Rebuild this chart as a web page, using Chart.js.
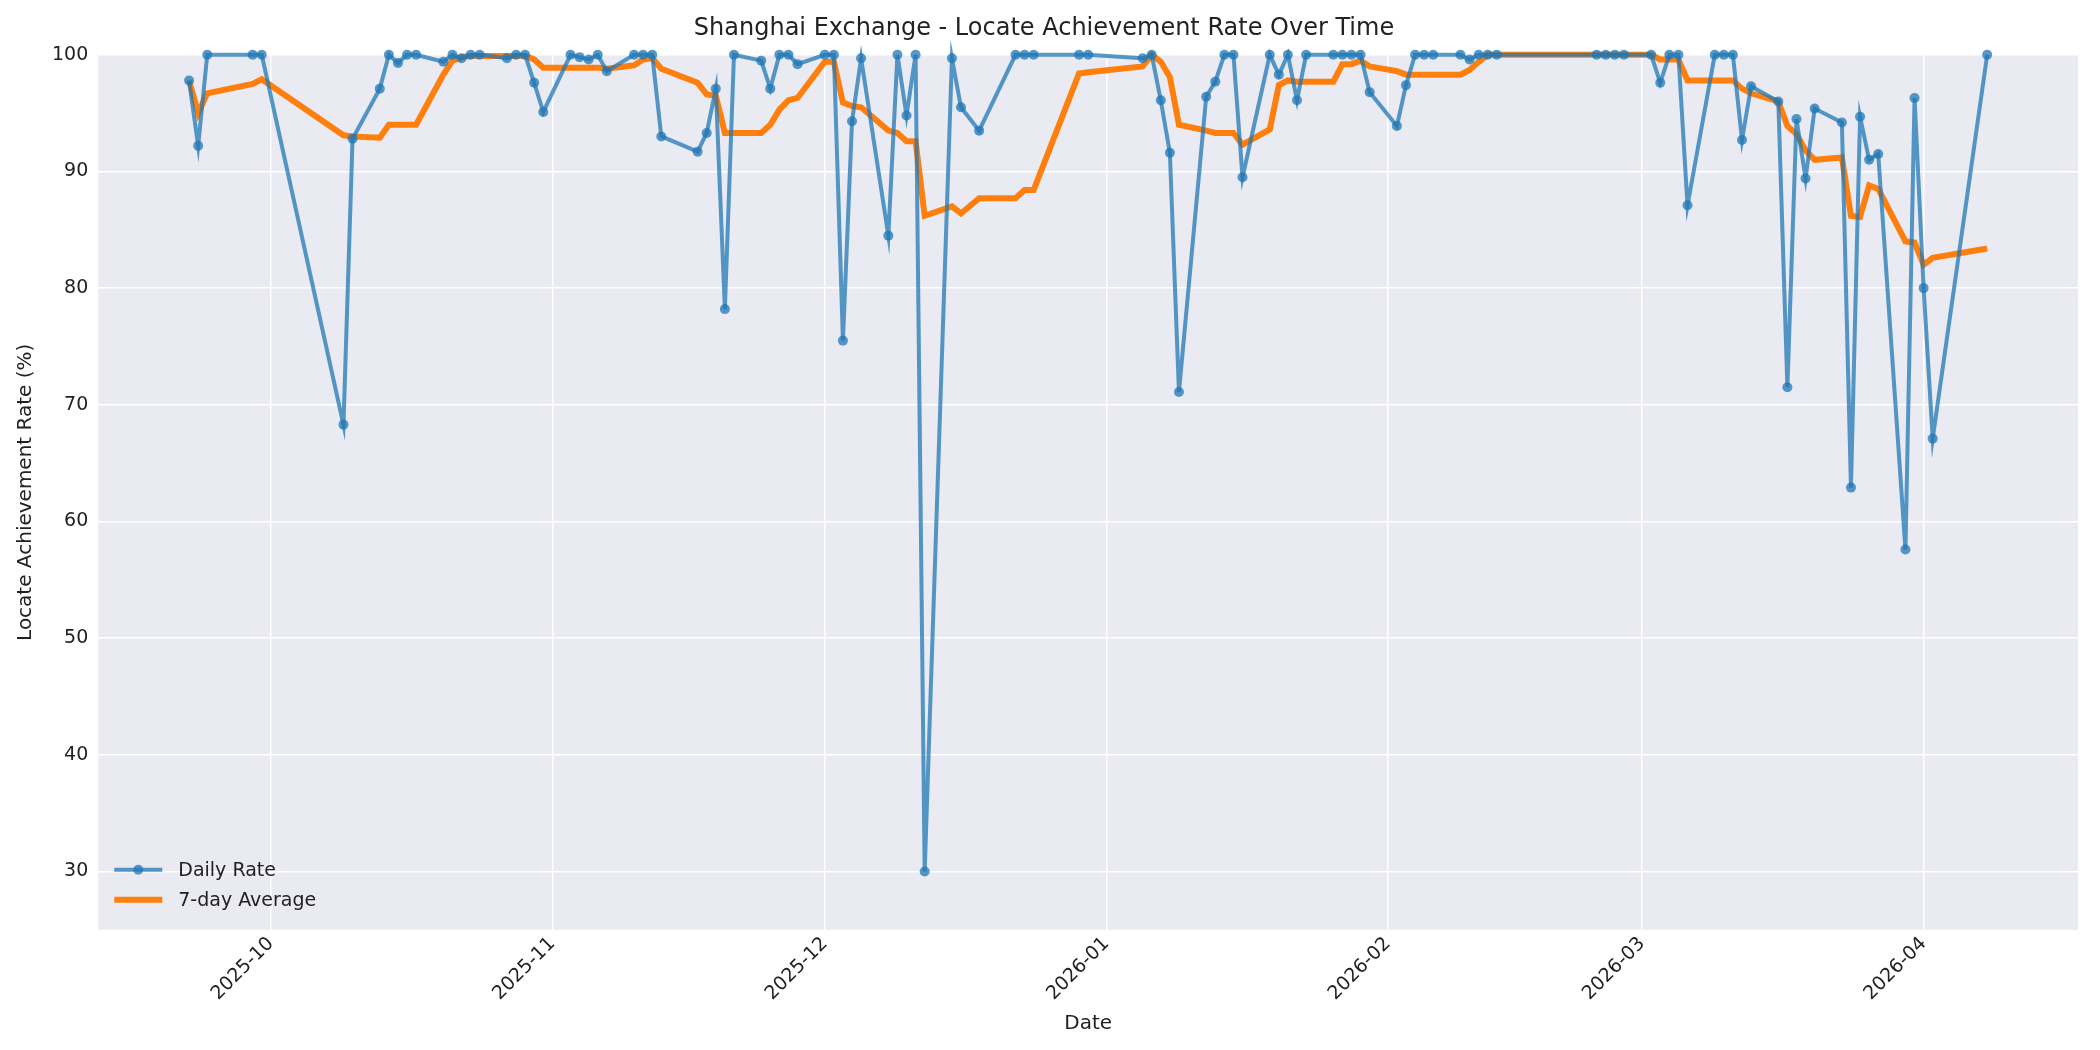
<!DOCTYPE html>
<html>
<head>
<meta charset="utf-8">
<script src="https://cdn.jsdelivr.net/npm/chart.js@4"></script>
<style>
  html, body { margin: 0; padding: 0; background: #fff; }
</style>
</head>
<body>
<canvas id="chart" width="2100" height="1050"></canvas>
<script>
const dates = [
  '2025-09-22','2025-09-23','2025-09-24','2025-09-29','2025-09-30',
  '2025-10-09','2025-10-10','2025-10-13','2025-10-14','2025-10-15','2025-10-16','2025-10-17',
  '2025-10-20','2025-10-21','2025-10-22','2025-10-23','2025-10-24',
  '2025-10-27','2025-10-28','2025-10-29','2025-10-30','2025-10-31',
  '2025-11-03','2025-11-04','2025-11-05','2025-11-06','2025-11-07',
  '2025-11-10','2025-11-11','2025-11-12','2025-11-13',
  '2025-11-17','2025-11-18','2025-11-19','2025-11-20','2025-11-21',
  '2025-11-24','2025-11-25','2025-11-26','2025-11-27','2025-11-28',
  '2025-12-01','2025-12-02','2025-12-03','2025-12-04','2025-12-05',
  '2025-12-08','2025-12-09','2025-12-10','2025-12-11','2025-12-12',
  '2025-12-15','2025-12-16','2025-12-18',
  '2025-12-22','2025-12-23','2025-12-24','2025-12-29','2025-12-30',
  '2026-01-05','2026-01-06','2026-01-07','2026-01-08','2026-01-09',
  '2026-01-12','2026-01-13','2026-01-14','2026-01-15','2026-01-16',
  '2026-01-19','2026-01-20','2026-01-21','2026-01-22','2026-01-23',
  '2026-01-26','2026-01-27','2026-01-28','2026-01-29','2026-01-30',
  '2026-02-02','2026-02-03','2026-02-04','2026-02-05','2026-02-06',
  '2026-02-09','2026-02-10','2026-02-11','2026-02-12','2026-02-13',
  '2026-02-24','2026-02-25','2026-02-26','2026-02-27',
  '2026-03-02','2026-03-03','2026-03-04','2026-03-05','2026-03-06',
  '2026-03-09','2026-03-10','2026-03-11','2026-03-12','2026-03-13',
  '2026-03-16','2026-03-17','2026-03-18','2026-03-19','2026-03-20',
  '2026-03-23','2026-03-24','2026-03-25','2026-03-26','2026-03-27',
  '2026-03-30','2026-03-31','2026-04-01','2026-04-02','2026-04-08'
];

const dailyRate = [
  97.8, 92.2, 100, 100, 100,
  68.3, 92.8, 97.1, 100, 99.3, 100, 100,
  99.4, 100, 99.7, 100, 100,
  99.7, 100, 100, 97.6, 95.1,
  100, 99.8, 99.6, 100, 98.6,
  100, 100, 100, 93.0,
  91.7, 93.3, 97.1, 78.2, 100,
  99.5, 97.1, 100, 100, 99.2,
  100, 100, 75.5, 94.3, 99.7,
  84.5, 100, 94.8, 100, 30.0,
  99.7, 95.5, 93.5,
  100, 100, 100, 100, 100,
  99.7, 100, 96.1, 91.6, 71.1,
  96.4, 97.7, 100, 100, 89.5,
  100, 98.3, 100, 96.1, 100,
  100, 100, 100, 100, 96.8,
  93.9, 97.4, 100, 100, 100,
  100, 99.6, 100, 100, 100,
  100, 100, 100, 100,
  100, 97.6, 100, 100, 87.1,
  100, 100, 100, 92.7, 97.3,
  96.0, 71.5, 94.5, 89.4, 95.4,
  94.2, 62.9, 94.7, 91.0, 91.5,
  57.6, 96.3, 80.0, 67.1, 100
];

const avg7 = [
  97.8, 95.0, 96.7, 97.5, 97.9,
  93.1, 93.0, 92.9, 94.0, 94.0, 94.0, 94.0,
  98.3, 99.5, 99.8, 99.9, 99.9,
  99.9, 99.9, 99.9, 99.6, 98.9,
  98.9, 98.9, 98.9, 98.9, 98.8,
  99.1, 99.6, 99.7, 98.8,
  97.6, 96.6, 96.5, 93.3, 93.3,
  93.3, 94.0, 95.3, 96.1, 96.3,
  99.4, 99.4, 95.9, 95.6, 95.5,
  93.5, 93.3, 92.6, 92.6, 86.2,
  87.0, 86.4, 87.7,
  87.7, 88.4, 88.4, 98.4, 98.5,
  99.0, 100, 99.4, 98.1, 94.0,
  93.5, 93.3, 93.3, 93.3, 92.3,
  93.6, 97.4, 97.8, 97.7, 97.7,
  97.7, 99.2, 99.2, 99.5, 99.0,
  98.6, 98.3, 98.3, 98.3, 98.3,
  98.3, 98.7, 99.4, 100, 100,
  100, 100, 100, 100,
  100, 99.6, 99.6, 99.6, 97.8,
  97.8, 97.8, 97.8, 97.1, 96.7,
  96.0, 93.9, 93.2, 91.8, 91.0,
  91.2, 86.2, 86.1, 88.8, 88.5,
  84.0, 83.9, 82.0, 82.6, 83.4
];

const monthTicks = ['2025-10-01','2025-11-01','2025-12-01','2026-01-01','2026-02-01','2026-03-01','2026-04-01'];
const yTicks = [30, 40, 50, 60, 70, 80, 90, 100];

const DAY = 86400000;
const toDay = s => Date.parse(s + 'T00:00:00Z') / DAY;
const dayLabel = d => new Date(Math.round(d) * DAY).toISOString().slice(0, 7);

const bgPlugin = {
  id: 'bg',
  beforeDraw(chart) {
    const { ctx, chartArea: a } = chart;
    ctx.save();
    ctx.fillStyle = '#EAEAF2';
    ctx.fillRect(a.left, a.top, a.right - a.left, a.bottom - a.top);
    ctx.restore();
  },
  afterDatasetsDraw(chart) {
    // legend in lower-left corner of plot
    const { ctx, chartArea: a } = chart;
    const items = [
      { label: 'Daily Rate', color: 'rgba(31,119,180,0.75)', w: 4, dot: true },
      { label: '7-day Average', color: '#ff7f0e', w: 6, dot: false }
    ];
    ctx.save();
    ctx.font = '19px "DejaVu Sans"';
    ctx.textBaseline = 'middle';
    items.forEach((it, i) => {
      const y = a.bottom - 60 + i * 30;
      const x = a.left + 16;
      ctx.strokeStyle = it.color;
      ctx.lineWidth = it.w;
      ctx.beginPath(); ctx.moveTo(x, y); ctx.lineTo(x + 48, y); ctx.stroke();
      if (it.dot) {
        ctx.fillStyle = it.color;
        ctx.beginPath(); ctx.arc(x + 24, y, 5, 0, Math.PI * 2); ctx.fill();
      }
      ctx.fillStyle = '#222';
      ctx.fillText(it.label, x + 64, y + 1);
    });
    ctx.restore();
  }
};

const xs = dates.map(toDay);

new Chart(document.getElementById('chart'), {
  type: 'line',
  data: {
    datasets: [
      {
        label: 'Daily Rate',
        data: xs.map((x, i) => ({ x, y: dailyRate[i] })),
        borderColor: 'rgba(31,119,180,0.75)',
        backgroundColor: 'rgba(31,119,180,0.75)',
        borderWidth: 4,
        pointRadius: 5,
        pointBorderWidth: 0,
        tension: 0
      },
      {
        label: '7-day Average',
        data: xs.map((x, i) => ({ x, y: avg7[i] })),
        borderColor: '#ff7f0e',
        backgroundColor: '#ff7f0e',
        borderWidth: 6,
        pointRadius: 0,
        tension: 0
      }
    ]
  },
  options: {
    responsive: false,
    animation: false,
    devicePixelRatio: 1,
    clip: false,
    layout: { padding: { left: 10, right: 22, top: 8, bottom: 10 } },
    plugins: {
      legend: { display: false },
      tooltip: { enabled: false },
      title: {
        display: true,
        text: 'Shanghai Exchange - Locate Achievement Rate Over Time',
        font: { family: 'DejaVu Sans', size: 24, weight: 'normal' },
        color: '#222',
        padding: { top: 6, bottom: 12 }
      }
    },
    scales: {
      x: {
        type: 'linear',
        min: toDay('2025-09-12'),
        max: toDay('2026-04-18'),
        afterBuildTicks(axis) { axis.ticks = monthTicks.map(s => ({ value: toDay(s) })); },
        ticks: {
          callback: v => dayLabel(v),
          maxRotation: 45, minRotation: 45,
          font: { family: 'DejaVu Sans', size: 19 }, color: '#222'
        },
        grid: { color: '#fff', lineWidth: 1.5, drawTicks: false },
        border: { display: false },
        title: { display: true, text: 'Date', font: { family: 'DejaVu Sans', size: 20 }, color: '#222' }
      },
      y: {
        min: 25, max: 100,
        afterBuildTicks(axis) { axis.ticks = yTicks.map(v => ({ value: v })); },
        ticks: { font: { family: 'DejaVu Sans', size: 19 }, color: '#222', padding: 10 },
        grid: { color: '#fff', lineWidth: 1.5, drawTicks: false },
        border: { display: false },
        title: { display: true, text: 'Locate Achievement Rate (%)', font: { family: 'DejaVu Sans', size: 20 }, color: '#222' }
      }
    }
  },
  plugins: [bgPlugin]
});
</script>
</body>
</html>
